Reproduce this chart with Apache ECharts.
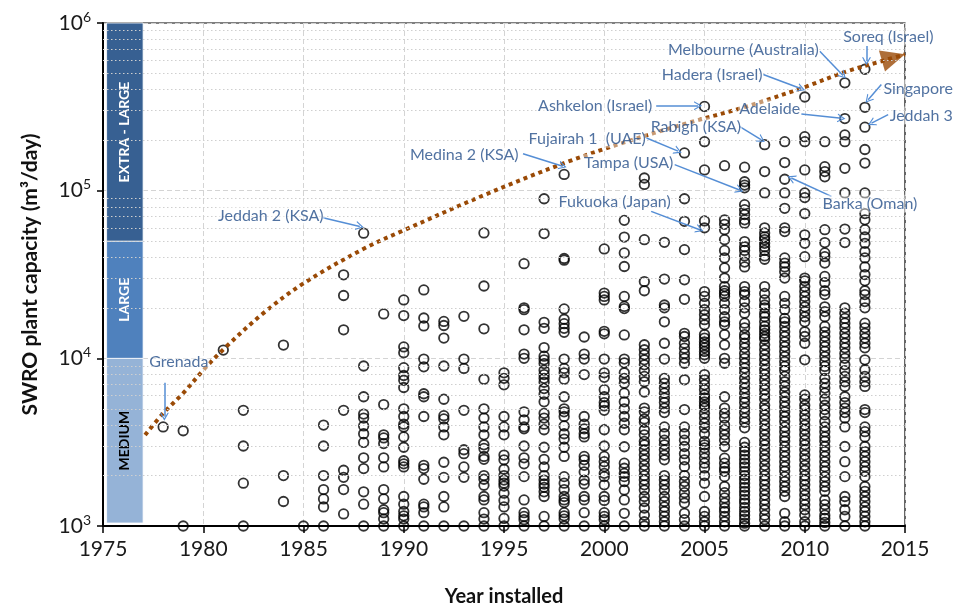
<!DOCTYPE html>
<html><head><meta charset="utf-8">
<script src="https://cdn.jsdelivr.net/npm/echarts@6/dist/echarts.min.js"></script>
<style>html,body{margin:0;padding:0;background:#fff}#c{width:956px;height:607px}</style>
</head><body><div id="c"></div>
<script>
// ---------- plant capacities (m3/day) per installation year ----------
const c1978 = [3900];
const c1979 = [3700, 1000];
const c1981 = [11200];
const c1982 = [4900, 3000, 1800, 1000];
const c1984 = [12000, 2000, 1400];
const c1985 = [1000];
const c1986 = [4000, 3000, 2000, 1650, 1450, 1300, 1000];
const c1987 = [31500, 23700, 14800, 4900, 2150, 1950, 1650, 1180];
const c1988 = [55800, 9000, 5900, 4650, 4400, 3950, 3550, 3150, 2550, 2200, 1600, 1350, 1000];
const c1989 = [18400, 5300, 3500, 3350, 3100, 2550, 2250, 1650, 1450, 1250, 1200, 1100, 1000];
const c1990 = [22300, 18000, 11700, 10800, 8800, 7900, 7400, 6700, 5000, 4500, 4050, 3900, 3400, 2950, 2450, 2350, 2250, 1500, 1350, 1220, 1150, 1100, 1000];
const c1991 = [25600, 17400, 15600, 9900, 8900, 6150, 5900, 4500, 2300, 2200, 1900, 1350, 1300, 1200, 1000];
const c1992 = [16600, 15700, 13200, 9000, 5700, 4550, 4350, 3900, 3500, 2400, 1950, 1500, 1300, 1000];
const c1993 = [17800, 9900, 8700, 4900, 2850, 2700, 2250, 1950, 1000];
const c1994 = [56000, 27000, 15000, 7500, 5000, 4400, 3900, 3500, 3050, 2900, 2600, 2500, 2000, 1900, 1750, 1500, 1430, 1200, 1100, 1000];
const c1995 = [8200, 7600, 6950, 4500, 3900, 3500, 2650, 2480, 2180, 2000, 1880, 1800, 1730, 1570, 1420, 1300, 1110, 1000];
const c1996 = [36700, 20000, 19500, 14800, 10600, 10000, 4800, 4300, 3900, 3800, 3000, 2550, 2350, 1970, 1430, 1200, 1140, 1090, 1000];
const c1997 = [89500, 55500, 16400, 15100, 11600, 10300, 9800, 9300, 8500, 8000, 7600, 7200, 6600, 6100, 5500, 4700, 4400, 4050, 3750, 2950, 2500, 2250, 2000, 1880, 1780, 1700, 1600, 1500, 1140, 1000];
const c1998 = [125000, 39400, 38500, 19700, 17100, 16100, 15100, 14300, 9900, 8700, 8200, 7500, 5900, 5000, 4800, 4500, 3950, 3550, 3300, 2950, 2600, 1970, 1800, 1650, 1500, 1430, 1380, 1200, 1150, 1100, 1000];
const c1999 = [13400, 10600, 9900, 8000, 4500, 4050, 3800, 3550, 3400, 2600, 2480, 2300, 2100, 1880, 1780, 1500, 1430, 1200, 1000];
const c2000 = [44900, 24500, 23400, 22300, 14500, 14000, 9900, 8200, 7700, 6500, 5900, 5450, 5200, 4900, 3750, 3000, 2600, 2420, 2260, 2060, 1970, 1760, 1500, 1420, 1200, 1140, 1090, 1000];
const c2001 = [66500, 52900, 42500, 35300, 23400, 20400, 19800, 13800, 9900, 9400, 8200, 7600, 7100, 6200, 5500, 5000, 4500, 4100, 3750, 2970, 2370, 2210, 2060, 1970, 1840, 1640, 1430, 1190, 1000];
const c2002 = [119000, 109000, 51000, 28700, 25300, 12050, 11250, 10500, 9800, 9150, 8450, 7800, 7250, 6300, 5050, 4800, 4350, 4150, 3750, 3500, 3200, 3050, 2850, 2650, 2480, 2300, 2150, 2000, 1880, 1760, 1640, 1500, 1400, 1280, 1160, 1060, 1000];
const c2003 = [49200, 29700, 20800, 20000, 16500, 12300, 9900, 7600, 7100, 6650, 6200, 5800, 5450, 5050, 4750, 3900, 3550, 3250, 3050, 2850, 2650, 2480, 2000, 1880, 1760, 1640, 1500, 1400, 1300, 1220, 1140, 1060, 1000];
const c2004 = [168000, 89500, 65600, 44500, 29400, 22500, 14100, 13500, 12300, 11500, 10700, 10000, 9350, 7450, 4950, 3900, 3550, 3250, 2980, 2700, 2480, 2260, 2000, 1840, 1720, 1580, 1470, 1370, 1190, 1090, 1000];
const c2005 = [318000, 196000, 133000, 66000, 60000, 25000, 23400, 21300, 19500, 18200, 17000, 15850, 13850, 13200, 12550, 12050, 11550, 11000, 10500, 10000, 8000, 7450, 6950, 6500, 6050, 5800, 5500, 5250, 5050, 4700, 4400, 4100, 3850, 3550, 3200, 3050, 2920, 2720, 2540, 2370, 2220, 2000, 1800, 1500, 1220, 1140, 1060, 1000];
const c2006 = [141000, 67000, 63000, 58500, 51000, 44000, 39700, 34600, 30100, 26800, 25300, 24400, 23400, 21300, 19500, 17700, 16500, 15850, 13850, 12050, 10000, 9350, 5900, 5050, 4700, 4400, 4000, 3750, 3500, 3250, 2980, 2540, 2370, 2220, 2120, 1970, 1720, 1580, 1470, 1370, 1280, 1220, 1140, 1060, 1000];
const c2007 = [138000, 113000, 108000, 104000, 82500, 77000, 72000, 67000, 64000, 49700, 46300, 44000, 40800, 37500, 35100, 26800, 25000, 24000, 21800, 20000, 18600, 16200, 15200, 13850, 13200, 12300, 11550, 10700, 10000, 9350, 8750, 8200, 7600, 7100, 6650, 6200, 5800, 5450, 5050, 4750, 4400, 4150, 3850, 3150, 2950, 2800, 2650, 2500, 2370, 2250, 2120, 2000, 1900, 1800, 1700, 1610, 1530, 1440, 1370, 1290, 1220, 1160, 1100, 1040, 1000];
const c2008 = [188000, 130000, 97000, 60000, 56000, 53000, 51000, 48500, 46300, 44000, 40800, 39000, 26800, 24400, 22300, 20800, 20000, 18600, 17700, 16500, 15500, 14800, 14100, 13500, 13000, 12050, 11250, 10500, 9800, 9150, 8550, 8000, 7450, 6950, 6500, 6050, 5700, 5250, 4950, 4600, 4300, 4000, 3750, 3500, 3250, 3050, 2850, 2650, 2480, 2300, 2150, 2000, 1880, 1760, 1640, 1530, 1430, 1340, 1250, 1160, 1090, 1000];
const c2009 = [196000, 147000, 117000, 97000, 78500, 60000, 57000, 39700, 37000, 35100, 32800, 30100, 23400, 21300, 19500, 17300, 16500, 15500, 14400, 13500, 12550, 11750, 11000, 10250, 9550, 8950, 8450, 7800, 7250, 6800, 6300, 5900, 5500, 5150, 4800, 4500, 4200, 3900, 3650, 3400, 3200, 2980, 2780, 2600, 2420, 2260, 2120, 1970, 1840, 1720, 1610, 1500, 1190, 1060, 1000];
const c2010 = [362000, 210000, 196000, 133000, 97000, 91000, 73000, 54500, 48500, 40400, 30100, 29000, 26800, 25000, 23400, 21800, 20300, 19000, 17700, 16500, 14400, 13500, 12300, 9800, 6050, 5700, 5250, 4950, 4600, 4300, 4000, 3750, 3500, 3250, 3050, 2850, 2650, 2480, 2300, 2150, 2000, 1880, 1760, 1640, 1530, 1430, 1340, 1250, 1160, 1060, 1000];
const c2011 = [196000, 139000, 130000, 121000, 58500, 49000, 42500, 40400, 37000, 30800, 28300, 25300, 24000, 20300, 19000, 17700, 15500, 14400, 13500, 12550, 11750, 11000, 10250, 9550, 8950, 8450, 7600, 7100, 6650, 6200, 5700, 5250, 4950, 4600, 4200, 3900, 3650, 3400, 3200, 2980, 2780, 2600, 2420, 2260, 2120, 1970, 1840, 1720, 1610, 1430, 1340, 1250, 1160, 1110, 1050, 1000];
const c2012 = [440000, 269000, 215000, 196000, 136000, 97000, 59000, 49000, 20000, 18600, 17300, 16200, 15200, 14100, 13200, 12300, 11550, 10700, 10000, 9150, 8450, 7800, 7250, 6800, 5900, 5450, 5050, 4750, 4400, 3900, 2980, 2420, 1970, 1500, 1400, 1250, 1140, 1000];
const c2013 = [530000, 314000, 239000, 176000, 146000, 97000, 73000, 67000, 58500, 53000, 48500, 43300, 39700, 35100, 31600, 29000, 25300, 24000, 21800, 20000, 16200, 15200, 14100, 13200, 12300, 11550, 9800, 8550, 7800, 7250, 6800, 4950, 4750, 3900, 3650, 3400, 2980, 2780, 2600, 2420, 2260, 2120, 1970, 1720, 1610, 1500, 1400, 1300, 1220, 1140, 1060, 1000];

const yearColumns = [
  [1978, c1978], [1979, c1979], [1981, c1981], [1982, c1982], [1984, c1984], [1985, c1985],
  [1986, c1986], [1987, c1987], [1988, c1988], [1989, c1989], [1990, c1990], [1991, c1991],
  [1992, c1992], [1993, c1993], [1994, c1994], [1995, c1995], [1996, c1996], [1997, c1997],
  [1998, c1998], [1999, c1999], [2000, c2000], [2001, c2001], [2002, c2002], [2003, c2003],
  [2004, c2004], [2005, c2005], [2006, c2006], [2007, c2007], [2008, c2008], [2009, c2009],
  [2010, c2010], [2011, c2011], [2012, c2012], [2013, c2013]
];

// ---------- trend curve (dotted, ends in an arrow) ----------
const trendYears  = [1977.1, 1978, 1979, 1980, 1981, 1983, 1985, 1988, 1990, 1994, 1998, 2001, 2004, 2007, 2010, 2012, 2014, 2015];
const trendValues = [3490, 4700, 6200, 8500, 11300, 18600, 28000, 45000, 58000, 94000, 146000, 194000, 250000, 315000, 415000, 510000, 600000, 650000];

// ---------- size bands ----------
const bandNames  = ['MEDIUM', 'LARGE', 'EXTRA - LARGE'];
const bandLow    = [1042, 10000, 50000];
const bandHigh   = [10000, 50000, 1000000];
const bandYears  = [1975.18, 1977];

// ---------- axes ----------
const xTicks = [1975, 1980, 1985, 1990, 1995, 2000, 2005, 2010, 2015];
const yMinorTicks = [2000, 3000, 4000, 5000, 6000, 7000, 8000, 9000,
  20000, 30000, 40000, 50000, 60000, 70000, 80000, 90000,
  200000, 300000, 400000, 500000, 600000, 700000, 800000, 900000];

// ---------- annotations ----------
const noteNames = ['Grenada', 'Jeddah 2 (KSA)', 'Medina 2 (KSA)', 'Fujairah 1  (UAE)', 'Ashkelon (Israel)',
  'Tampa (USA)', 'Fukuoka (Japan)', 'Melbourne (Australia)', 'Soreq (Israel)', 'Hadera (Israel)',
  'Adelaide', 'Singapore', 'Jeddah 3', 'Rabigh (KSA)', 'Barka (Oman)'];
const notePos = [[1978.78, 9570], [1983.37, 70300], [1993.02, 164000], [1999.15, 204000], [1999.55, 321000],
  [2001.22, 146000], [2000.52, 85700], [2006.94, 695000], [2014.17, 830000], [2005.38, 493000],
  [2008.25, 309000], [2015.66, 406000], [2015.81, 281000], [2004.57, 241000], [2013.25, 83500]];
const arrowFrom = [[1978.06, 7150], [1985.97, 69000], [1995.95, 166000], [2002.08, 207000], [2002.59, 321000],
  [2003.51, 143000], [2002.34, 75200], [2010.75, 679000], [2013.08, 728000], [2007.93, 493000],
  [2009.83, 287000], [2013.82, 430000], [2014.16, 284000], [2006.74, 242000], [2011.33, 92500]];
const arrowTo = [[1978.06, 4490], [1987.81, 61200], [1997.93, 140000], [2003.68, 172000], [2004.68, 321000],
  [2006.75, 101000], [2004.76, 58500], [2011.91, 486000], [2013.08, 592000], [2009.83, 405000],
  [2011.83, 270000], [2013.16, 349000], [2013.33, 253000], [2007.84, 201000], [2009.33, 119000]];
const arrowCurve = [0, 0.25, 0.25, 0.1, 0, -0.3, -0.3, 0.3, 0, 0.3, 0.1, -0.3, -0.2, 0.3, -0.3];

// ---------- build ----------
const FONT = 'Lato';
const plantPoints = [];
yearColumns.forEach(([yr, arr]) => arr.forEach(v => plantPoints.push([yr, v])));
const trendData = trendYears.map((y, i) => [y, trendValues[i]]);
const arrowTip = trendData[trendData.length - 1];

const bandColors = ['#95B3D7', '#4F81BD', '#376092'];
const bandTextColors = ['#000', '#fff', '#fff'];
const bandAreas = bandNames.map((n, i) => [
  { name: n, xAxis: bandYears[0], yAxis: bandLow[i],
    itemStyle: { color: bandColors[i], borderColor: '#fff', borderWidth: 0.8 },
    label: { color: bandTextColors[i] } },
  { xAxis: bandYears[1], yAxis: bandHigh[i] }
]);

const chevron = 'path://M5,0 L10,9 L8.6,9 L5,2.6 L1.4,9 L0,9 Z';

const option = {
  animation: false,
  backgroundColor: '#fff',
  grid: { left: 103, right: 51, top: 23, bottom: 81, outerBoundsMode: 'none', containLabel: false,
          show: true, borderColor: '#000', borderWidth: 1.2, backgroundColor: 'transparent' },
  xAxis: {
    type: 'value', min: xTicks[0], max: xTicks[xTicks.length - 1], interval: 5,
    name: 'Year installed', nameLocation: 'middle', nameGap: 61,
    nameTextStyle: { fontFamily: FONT, fontWeight: 'bold', fontSize: 20, color: '#111' },
    axisLine: { lineStyle: { color: '#000', width: 2 } },
    axisTick: { show: true, inside: false, length: 7, lineStyle: { color: '#000', width: 1.5 } },
    axisLabel: { fontFamily: FONT, fontSize: 21, color: '#1a1a1a', margin: 13, formatter: v => String(v) },
    splitLine: { show: true, lineStyle: { color: '#D4D4D4', type: [5, 3], width: 1 } }
  },
  yAxis: {
    type: 'log', logBase: 10, min: 1000, max: 1000000,
    name: 'SWRO plant capacity (m³/day)', nameLocation: 'middle', nameGap: 62, nameRotate: 90,
    nameTextStyle: { fontFamily: FONT, fontWeight: 'bold', fontSize: 21, color: '#111' },
    axisLine: { lineStyle: { color: '#000', width: 2 } },
    axisTick: { show: true, inside: false, length: 6, lineStyle: { color: '#000', width: 1.5 } },
    axisLabel: {
      margin: 12,
      formatter: v => '{b|10}{s|' + Math.round(Math.log10(v)) + '}',
      rich: {
        b: { fontFamily: FONT, fontSize: 21, color: '#1a1a1a', lineHeight: 26 },
        s: { fontFamily: FONT, fontSize: 14, color: '#1a1a1a', lineHeight: 14, verticalAlign: 'top' }
      }
    },
    splitLine: { show: true, lineStyle: { color: '#D4D4D4', type: [5, 3], width: 1 } }
  },
  series: [
    { // minor horizontal gridlines
      type: 'scatter', data: [], z: 1, silent: true,
      markLine: {
        silent: true, symbol: ['none', 'none'], animation: false,
        label: { show: false },
        lineStyle: { color: '#CFCFCF', type: [1.5, 2.5], width: 1 },
        data: yMinorTicks.map(v => ({ yAxis: v }))
      }
    },
    { // size bands
      type: 'scatter', data: [], z: 2, silent: true,
      markArea: {
        silent: true,
        label: { show: true, position: 'inside', rotate: 90, fontFamily: FONT, fontWeight: 'bold', fontSize: 14 },
        data: bandAreas
      }
    },
    { // plants
      type: 'scatter', data: plantPoints, z: 3, symbol: 'circle', symbolSize: 9.5,
      itemStyle: { color: 'rgba(0,0,0,0)', borderColor: '#000', borderWidth: 1.8 }
    },
    { // trend
      type: 'line', data: trendData, z: 4, smooth: 0.35, symbol: 'none', silent: true,
      lineStyle: { color: '#9A4A06', width: 4, type: [4, 4], cap: 'butt' }
    },
    { // trend arrow head
      type: 'scatter', data: [arrowTip], z: 4, symbol: 'triangle', symbolSize: [22, 24],
      symbolRotate: -74, symbolOffset: [-11.5, 3.3], silent: true,
      itemStyle: { color: '#9A4A06' }
    },
    { // annotation labels + arrows
      type: 'scatter', z: 6, clip: false, silent: true, symbolSize: 1,
      itemStyle: { color: 'rgba(0,0,0,0)' },
      data: noteNames.map((n, i) => ({ name: n, value: notePos[i] })),
      label: {
        show: true, position: 'inside', formatter: '{b}', fontFamily: FONT, fontSize: 16, color: '#254F8A',
        backgroundColor: 'rgba(255,255,255,0.55)', padding: [1, 1]
      },
      markLine: {
        silent: true, animation: false,
        symbol: ['none', chevron], symbolSize: [9, 8],
        label: { show: false },
        lineStyle: { color: '#558ED5', width: 1.5, type: 'solid' },
        data: arrowFrom.map((f, i) => [
          { coord: f, lineStyle: { curveness: arrowCurve[i] } },
          { coord: arrowTo[i] }
        ])
      }
    }
  ]
};

const chart = echarts.init(document.getElementById('c'));
chart.setOption(option);
</script>
</body></html>
